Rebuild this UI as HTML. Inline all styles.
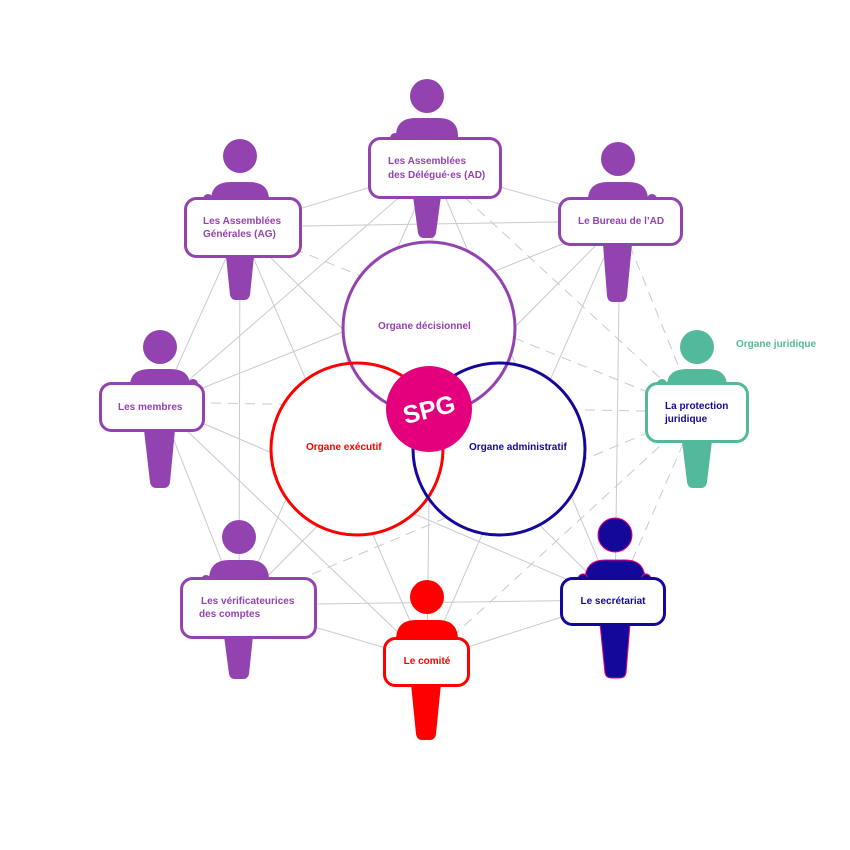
<!DOCTYPE html>
<html><head><meta charset="utf-8"><style>
html,body{margin:0;padding:0;background:#fff}
svg{display:block}
text{font-family:"Liberation Sans",sans-serif;font-weight:bold;font-size:10px}
</style></head><body>
<svg width="850" height="850" viewBox="0 0 850 850" xmlns="http://www.w3.org/2000/svg">
<g stroke="#c9c9d2" stroke-width="1" fill="none">
<line x1="433" y1="168" x2="240" y2="227"/>
<line x1="433" y1="168" x2="620" y2="221"/>
<line x1="433" y1="168" x2="160" y2="405"/>
<line x1="433" y1="168" x2="239" y2="605"/>
<line x1="433" y1="168" x2="427" y2="660"/>
<line x1="433" y1="168" x2="615" y2="600"/>
<line x1="240" y1="227" x2="620" y2="221"/>
<line x1="240" y1="227" x2="160" y2="405"/>
<line x1="240" y1="227" x2="239" y2="605"/>
<line x1="240" y1="227" x2="427" y2="660"/>
<line x1="240" y1="227" x2="615" y2="600"/>
<line x1="620" y1="221" x2="160" y2="405"/>
<line x1="620" y1="221" x2="239" y2="605"/>
<line x1="620" y1="221" x2="427" y2="660"/>
<line x1="620" y1="221" x2="615" y2="600"/>
<line x1="160" y1="405" x2="239" y2="605"/>
<line x1="160" y1="405" x2="427" y2="660"/>
<line x1="160" y1="405" x2="615" y2="600"/>
<line x1="239" y1="605" x2="427" y2="660"/>
<line x1="239" y1="605" x2="615" y2="600"/>
<line x1="427" y1="660" x2="615" y2="600"/>
<g stroke-dasharray="10 7">
<line x1="697" y1="412" x2="433" y2="168"/>
<line x1="697" y1="412" x2="240" y2="227"/>
<line x1="697" y1="412" x2="620" y2="221"/>
<line x1="697" y1="412" x2="160" y2="402"/>
<line x1="697" y1="412" x2="239" y2="605"/>
<line x1="697" y1="412" x2="427" y2="660"/>
<line x1="697" y1="412" x2="615" y2="600"/>
</g>
</g>
<g fill="#fff">
<circle cx="429" cy="328" r="86"/>
<circle cx="357" cy="449" r="86"/>
<circle cx="499" cy="449" r="86"/>
</g>
<g fill="none" stroke-width="3">
<circle cx="429" cy="328" r="86" stroke="#9343b0"/>
<circle cx="357" cy="449" r="86" stroke="#ff0000"/>
<circle cx="499" cy="449" r="86" stroke="#14089a"/>
</g>
<text x="378" y="329" fill="#9343b0">Organe décisionnel</text>
<text x="306" y="450" fill="#ff0000">Organe exécutif</text>
<text x="469" y="450" fill="#14089a">Organe administratif</text>
<circle cx="429" cy="409" r="43" fill="#e4007c"/>
<text x="429" y="418" fill="#fff" style="font-size:25px" text-anchor="middle" transform="rotate(-14 429 409)">SPG</text>

<!-- AD -->
<g fill="#9343b0">
<circle cx="427" cy="96" r="17"/>
<path d="M396,140 L396,136 Q396,118 416,118 L438,118 Q458,118 458,136 L458,140 Z"/>
<path d="M413,196 L441,196 L436,233 Q435,238 430,238 L424,238 Q419,238 418,233 Z"/>
<circle cx="395" cy="138" r="5"/>
</g>
<rect x="369.5" y="138.5" width="131" height="59" rx="11" fill="#fff" stroke="#9343b0" stroke-width="3"/>
<text x="388" y="164" fill="#9343b0">Les Assemblées</text>
<text x="388" y="178" fill="#9343b0">des Délégué·es (AD)</text>

<!-- AG -->
<g fill="#9343b0">
<circle cx="240" cy="156" r="17"/>
<path d="M211,200 L211,200 Q211,182 231,182 L249,182 Q269,182 269,200 Z"/>
<path d="M226,256 L254,256 L250,295 Q249,300 244,300 L236,300 Q231,300 230,295 Z"/>
<circle cx="208" cy="199" r="5"/>
</g>
<rect x="185.5" y="198.5" width="115" height="58" rx="11" fill="#fff" stroke="#9343b0" stroke-width="3"/>
<text x="203" y="224" fill="#9343b0">Les Assemblées</text>
<text x="203" y="237" fill="#9343b0">Générales (AG)</text>

<!-- Bureau -->
<g fill="#9343b0">
<circle cx="618" cy="159" r="17"/>
<path d="M588,200 Q588,182 608,182 L628,182 Q648,182 648,200 Z"/>
<path d="M603,244 L632,244 L627,296 Q626,302 621,302 L613,302 Q608,302 607,296 Z"/>
<circle cx="652" cy="199" r="5"/>
</g>
<rect x="559.5" y="198.5" width="122" height="46" rx="11" fill="#fff" stroke="#9343b0" stroke-width="3"/>
<text x="578" y="224" fill="#9343b0">Le Bureau de l’AD</text>

<!-- Membres -->
<g fill="#9343b0">
<circle cx="160" cy="347" r="17"/>
<path d="M130,386 Q130,369 150,369 L170,369 Q190,369 190,386 Z"/>
<path d="M144,430 L175,430 L170,482 Q169,488 164,488 L156,488 Q151,488 150,482 Z"/>
<circle cx="193" cy="384" r="5"/>
</g>
<rect x="100.5" y="383.5" width="103" height="47" rx="11" fill="#fff" stroke="#9343b0" stroke-width="3"/>
<text x="118" y="410" fill="#9343b0">Les membres</text>

<!-- Protection -->
<g fill="#52b99b">
<circle cx="697" cy="347" r="17"/>
<path d="M667,386 Q667,369 687,369 L707,369 Q727,369 727,386 Z"/>
<path d="M682,441 L712,441 L707,482 Q706,488 701,488 L693,488 Q688,488 687,482 Z"/>
<circle cx="662" cy="384" r="5"/>
</g>
<rect x="646.5" y="383.5" width="101" height="58" rx="11" fill="#fff" stroke="#52b99b" stroke-width="3"/>
<text x="665" y="409" fill="#14089a">La protection</text>
<text x="665" y="422" fill="#14089a">juridique</text>
<text x="736" y="347" fill="#52b99b">Organe juridique</text>

<!-- Verif -->
<g fill="#9343b0">
<circle cx="239" cy="537" r="17"/>
<path d="M209,580 Q209,560 229,560 L249,560 Q269,560 269,580 Z"/>
<path d="M224,636 L253,636 L249,674 Q248,679 243,679 L235,679 Q230,679 229,674 Z"/>
<circle cx="206" cy="580" r="5"/>
</g>
<rect x="181.5" y="578.5" width="134" height="59" rx="11" fill="#fff" stroke="#9343b0" stroke-width="3"/>
<text x="201" y="604" fill="#9343b0">Les vérificateurices</text>
<text x="199" y="617" fill="#9343b0">des comptes</text>

<!-- Comite -->
<g fill="#ff0000">
<circle cx="427" cy="597" r="17"/>
<path d="M396,640 Q396,620 416,620 L438,620 Q458,620 458,640 Z"/>
<path d="M411,684 L441,684 L436,734 Q435,740 430,740 L422,740 Q417,740 416,734 Z"/>
</g>
<rect x="384.5" y="638.5" width="84" height="47" rx="11" fill="#fff" stroke="#ff0000" stroke-width="3"/>
<text x="427" y="664" fill="#ff0000" text-anchor="middle">Le comité</text>

<!-- Secretariat -->
<g fill="#14089a" stroke="#e4007c" stroke-width="1">
<circle cx="615" cy="535" r="17"/>
<path d="M585,580 Q585,560 605,560 L625,560 Q645,560 645,580 Z"/>
<path d="M600,624 L630,624 L626,673 Q625,678 620,678 L611,678 Q606,678 605,673 Z"/>
<circle cx="583" cy="579" r="5"/>
<circle cx="646" cy="579" r="5"/>
</g>
<rect x="561.5" y="578.5" width="103" height="46" rx="11" fill="#fff" stroke="#14089a" stroke-width="3"/>
<text x="613" y="604" fill="#14089a" text-anchor="middle">Le secrétariat</text>
</svg>
</body></html>
